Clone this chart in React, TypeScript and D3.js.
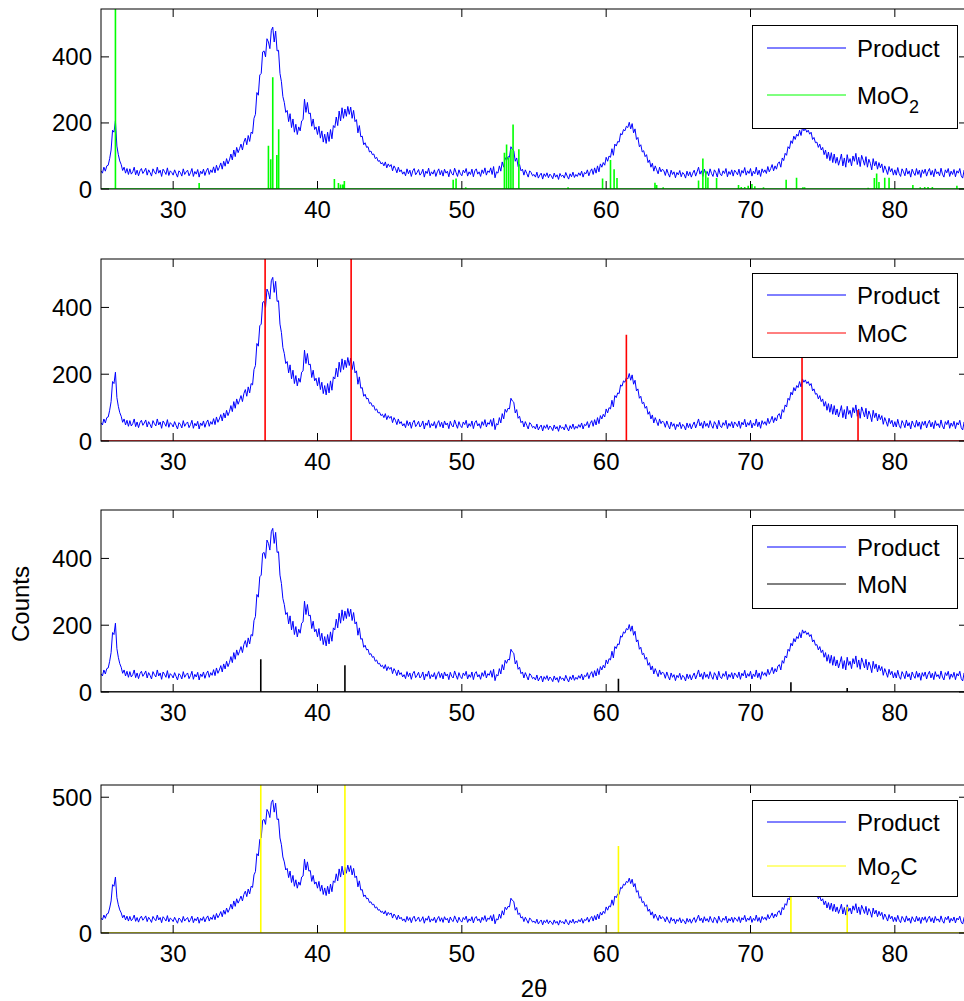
import React, { useEffect } from 'react';
import * as d3 from 'd3';

// ---------- data ----------
const angleStart = 25;
const angleStep = 0.1;
// Product diffractogram, counts at 25.0, 25.1, ... 85.0 (one row per degree)
const productCounts = [
  55, 48, 66, 54, 70, 72, 92, 118, 178, 172,
  206, 130, 104, 85, 74, 56, 66, 48, 62, 44,
  61, 45, 52, 66, 43, 57, 40, 55, 62, 47,
  54, 63, 42, 58, 50, 39, 61, 52, 45, 66,
  48, 57, 38, 60, 53, 44, 64, 41, 55, 50,
  42, 58, 47, 36, 55, 50, 39, 61, 44, 52,
  57, 40, 49, 62, 38, 53, 45, 59, 36, 54,
  46, 60, 41, 55, 63, 44, 58, 50, 67, 49,
  72, 56, 66, 79, 60, 84, 69, 92, 76, 88,
  106, 88, 118, 98, 126, 110, 122, 136, 118, 142,
  154, 134, 162, 144, 172, 168, 214, 226, 292, 284,
  345, 350, 415, 418, 400, 455, 445, 425, 480, 490,
  445, 478, 418, 420, 350, 325, 280, 262, 232, 238,
  204, 228, 186, 212, 172, 196, 165, 188, 176, 206,
  210, 272, 232, 262, 228, 230, 190, 212, 180, 188,
  165, 190, 154, 176, 142, 166, 138, 172, 144, 180,
  152, 192, 186, 218, 192, 236, 206, 246, 214, 242,
  220, 250, 226, 248, 214, 238, 204, 210, 170, 192,
  158, 160, 134, 140, 126, 128, 112, 115, 104, 106,
  92, 96, 84, 86, 76, 80, 70, 82, 64, 76,
  68, 74, 55, 70, 62, 49, 66, 52, 58, 45,
  52, 40, 61, 46, 57, 38, 55, 62, 43, 50,
  59, 42, 48, 60, 36, 54, 47, 63, 40, 52,
  45, 58, 38, 52, 61, 43, 56, 39, 60, 48,
  54, 37, 59, 47, 42, 63, 50, 38, 58, 46,
  40, 57, 49, 62, 39, 52, 44, 60, 37, 55,
  61, 45, 52, 38, 58, 47, 64, 42, 55, 50,
  64, 44, 68, 34, 52, 48, 70, 54, 82, 66,
  95, 86, 98, 96, 128, 120, 116, 84, 94, 68,
  74, 55, 60, 42, 58, 47, 36, 55, 50, 40,
  44, 36, 51, 33, 42, 48, 30, 46, 38, 49,
  34, 45, 40, 31, 48, 36, 43, 29, 47, 38,
  42, 33, 50, 39, 30, 46, 37, 51, 35, 44,
  38, 49, 41, 54, 36, 50, 46, 58, 40, 53,
  61, 44, 64, 48, 70, 52, 76, 66, 80, 72,
  96, 84, 100, 96, 122, 102, 136, 130, 144, 142,
  168, 164, 180, 176, 190, 186, 202, 182, 198, 170,
  182, 150, 156, 128, 134, 112, 116, 98, 104, 80,
  88, 66, 78, 54, 70, 58, 46, 66, 52, 60,
  55, 41, 60, 47, 36, 57, 44, 52, 34, 50,
  43, 56, 37, 50, 45, 33, 54, 40, 52, 36,
  48, 57, 39, 52, 66, 45, 55, 38, 60, 44,
  53, 40, 61, 47, 38, 58, 50, 36, 62, 45,
  40, 55, 47, 62, 37, 53, 44, 58, 39, 57,
  51, 43, 60, 38, 56, 48, 65, 42, 55, 47,
  62, 39, 54, 46, 66, 43, 57, 38, 61, 50,
  58, 47, 68, 52, 62, 74, 55, 70, 60, 78,
  82, 66, 94, 86, 108, 102, 128, 122, 146, 138,
  160, 150, 166, 160, 178, 162, 186, 176, 183, 172,
  178, 166, 172, 150, 156, 140, 142, 126, 136, 118,
  126, 104, 118, 92, 112, 86, 110, 80, 106, 78,
  96, 72, 88, 106, 70, 94, 66, 104, 80, 92,
  70, 100, 84, 108, 74, 96, 68, 102, 88, 72,
  98, 66, 90, 78, 58, 92, 70, 84, 60, 80,
  64, 76, 50, 70, 58, 44, 68, 52, 62, 42,
  58, 42, 65, 47, 38, 61, 52, 40, 63, 45,
  55, 36, 60, 49, 41, 62, 44, 57, 35, 58,
  47, 60, 39, 53, 62, 42, 56, 37, 61, 46,
  52, 40, 63, 45, 36, 58, 49, 62, 38, 54,
  44, 59, 37, 55, 48, 62, 40, 33, 57, 46,
  52,
];

const moo2Angles = [26.0, 31.8, 36.6, 36.76, 36.9, 37.18, 37.31, 41.17, 41.45, 41.6, 41.75, 41.86,
  49.4, 49.6, 50.27, 52.95, 53.1, 53.25, 53.4, 53.55, 53.95, 57.36, 59.75, 60.3, 60.55, 60.75,
  63.38, 63.5, 63.95, 66.4, 66.7, 66.9, 67.05, 67.65, 69.17, 69.36, 69.6, 69.84, 70.1, 70.3, 70.9,
  72.47, 73.19, 73.63, 73.75, 78.15, 78.58, 78.74, 78.9, 79.3, 79.6, 81.25, 81.76, 82.07, 82.3, 82.6, 84.3];
const moo2Counts = [1000, 18, 131, 90, 338, 103, 181, 30, 18, 14, 14, 24,
  28, 32, 5, 110, 135, 95, 120, 195, 120, 5, 32, 88, 60, 33,
  19, 12, 5, 26, 92, 55, 35, 33, 12, 6, 6, 10, 15, 8, 5,
  28, 34, 5, 5, 4, 33, 47, 21, 34, 34, 12, 5, 6, 6, 6, 10];

const mocAngles = [36.37, 42.33, 61.4, 73.57, 77.45];
const mocCounts = [1000, 1000, 318, 280, 93];

const monAngles = [36.07, 41.9, 60.85, 72.8, 76.7];
const monCounts = [98, 80, 40, 29, 12];

const mo2cAngles = [36.07, 41.9, 60.85, 72.8, 76.7];
const mo2cCounts = [1000, 1000, 320, 250, 97];

const xTickValues = [30, 40, 50, 60, 70, 80];
const yTicksSmall = [0, 200, 400];
const yTicksLast = [0, 500];
const xDomain = [25, 85];
const yDomain = [0, 545];

// ---------- layout ----------
const W = 964;
const H = 1001;
const LEFT = 101;
const RIGHT = 967;
const FONT = '"Liberation Sans", Arial, Helvetica, sans-serif';
const FS = 24;
const TICK = 8;

type PanelCfg = {
  top: number; bottom: number; yTicks: number[];
  refAngles: number[]; refCounts: number[]; refColor: string;
  name: string; sub?: string; after?: string;
  legTop: number; legBottom: number; row1: number; row2: number;
};

const panels: PanelCfg[] = [
  { top: 9, bottom: 189, yTicks: yTicksSmall, refAngles: moo2Angles, refCounts: moo2Counts, refColor: '#00ff00',
    name: 'MoO', sub: '2', legTop: 25, legBottom: 128, row1: 48, row2: 95 },
  { top: 259, bottom: 441, yTicks: yTicksSmall, refAngles: mocAngles, refCounts: mocCounts, refColor: '#ff0000',
    name: 'MoC', legTop: 273, legBottom: 357, row1: 295, row2: 333 },
  { top: 510, bottom: 692, yTicks: yTicksSmall, refAngles: monAngles, refCounts: monCounts, refColor: '#000000',
    name: 'MoN', legTop: 525, legBottom: 608, row1: 547, row2: 584 },
  { top: 785, bottom: 933, yTicks: yTicksLast, refAngles: mo2cAngles, refCounts: mo2cCounts, refColor: '#ffff00',
    name: 'Mo', sub: '2', after: 'C', legTop: 800, legBottom: 896, row1: 822, row2: 866 },
];

const productPoints: [number, number][] = productCounts.map((c, i) => [angleStart + i * angleStep, c]);

function stickPoints(angles: number[], counts: number[]): [number, number][] {
  const pts: [number, number][] = [[xDomain[0], 0]];
  angles.forEach((a, i) => {
    pts.push([a, 0], [a, counts[i]], [a, 0]);
  });
  pts.push([xDomain[1], 0]);
  return pts;
}

function Panel({ cfg, idx }: { cfg: PanelCfg; idx: number }) {
  const x = d3.scaleLinear().domain(xDomain).range([LEFT, RIGHT]);
  const y = d3.scaleLinear().domain(yDomain).range([cfg.bottom, cfg.top]);
  const line = d3.line<[number, number]>().x(d => x(d[0])).y(d => y(d[1]));
  const clipId = `clip${idx}`;
  const refPath = line(stickPoints(cfg.refAngles, cfg.refCounts)) || '';
  const prodPath = line(productPoints) || '';
  const lx1 = 767, lx2 = 846, tx = 857;
  return (
    <g>
      <defs>
        <clipPath id={clipId}>
          <rect x={LEFT} y={cfg.top} width={RIGHT - LEFT} height={cfg.bottom - cfg.top} />
        </clipPath>
      </defs>
      <rect x={LEFT} y={cfg.top} width={RIGHT - LEFT} height={cfg.bottom - cfg.top} fill="#fff" />
      <g clipPath={`url(#${clipId})`}>
        <path d={prodPath} fill="none" stroke="#0000ff" strokeWidth={1} />
        <path d={refPath} fill="none" stroke={cfg.refColor} strokeWidth={1.6} />
      </g>
      <rect x={LEFT} y={cfg.top} width={RIGHT - LEFT} height={cfg.bottom - cfg.top} fill="none" stroke="#000" strokeWidth={1} />
      {xTickValues.map(t => (
        <g key={`xt${t}`}>
          <line x1={x(t)} x2={x(t)} y1={cfg.bottom} y2={cfg.bottom - TICK} stroke="#000" />
          <line x1={x(t)} x2={x(t)} y1={cfg.top} y2={cfg.top + TICK} stroke="#000" />
          <text x={x(t)} y={cfg.bottom + 29} textAnchor="middle" fontFamily={FONT} fontSize={FS} fill="#000">{t}</text>
        </g>
      ))}
      {cfg.yTicks.map(t => (
        <g key={`yt${t}`}>
          <line x1={LEFT} x2={LEFT + TICK} y1={y(t)} y2={y(t)} stroke="#000" />
          <line x1={RIGHT} x2={RIGHT - TICK} y1={y(t)} y2={y(t)} stroke="#000" />
          <text x={LEFT - 9} y={y(t) + 8.5} textAnchor="end" fontFamily={FONT} fontSize={FS} fill="#000">{t}</text>
        </g>
      ))}
      <rect x={752.5} y={cfg.legTop + 0.5} width={205} height={cfg.legBottom - cfg.legTop} fill="#fff" stroke="#000" strokeWidth={1} />
      <line x1={lx1} x2={lx2} y1={cfg.row1} y2={cfg.row1} stroke="#0000ff" strokeWidth={1} />
      <text x={tx} y={cfg.row1 + 8.5} fontFamily={FONT} fontSize={FS} fill="#000">Product</text>
      <line x1={lx1} x2={lx2} y1={cfg.row2} y2={cfg.row2} stroke={cfg.refColor} strokeWidth={1} />
      <text x={tx} y={cfg.row2 + 8.5} fontFamily={FONT} fontSize={FS} fill="#000">
        <tspan>{cfg.name}</tspan>
        {cfg.sub ? <tspan dy={9} fontSize={18}>{cfg.sub}</tspan> : null}
        {cfg.after ? <tspan dy={-9}>{cfg.after}</tspan> : null}
      </text>
    </g>
  );
}

export default function App() {
  useEffect(() => {
    document.body.style.margin = '0';
  }, []);
  return (
    <svg width={W} height={H} viewBox={`0 0 ${W} ${H}`} style={{ position: 'absolute', left: 0, top: 0, background: '#fff' }}>
      <rect x={0} y={0} width={W} height={H} fill="#fff" />
      {panels.map((p, i) => <Panel key={i} cfg={p} idx={i} />)}
      <text transform="translate(29,604) rotate(-90)" textAnchor="middle" fontFamily={FONT} fontSize={FS} fill="#000">Counts</text>
      <text x={534} y={997} textAnchor="middle" fontFamily={FONT} fontSize={FS} fill="#000">2θ</text>
    </svg>
  );
}
